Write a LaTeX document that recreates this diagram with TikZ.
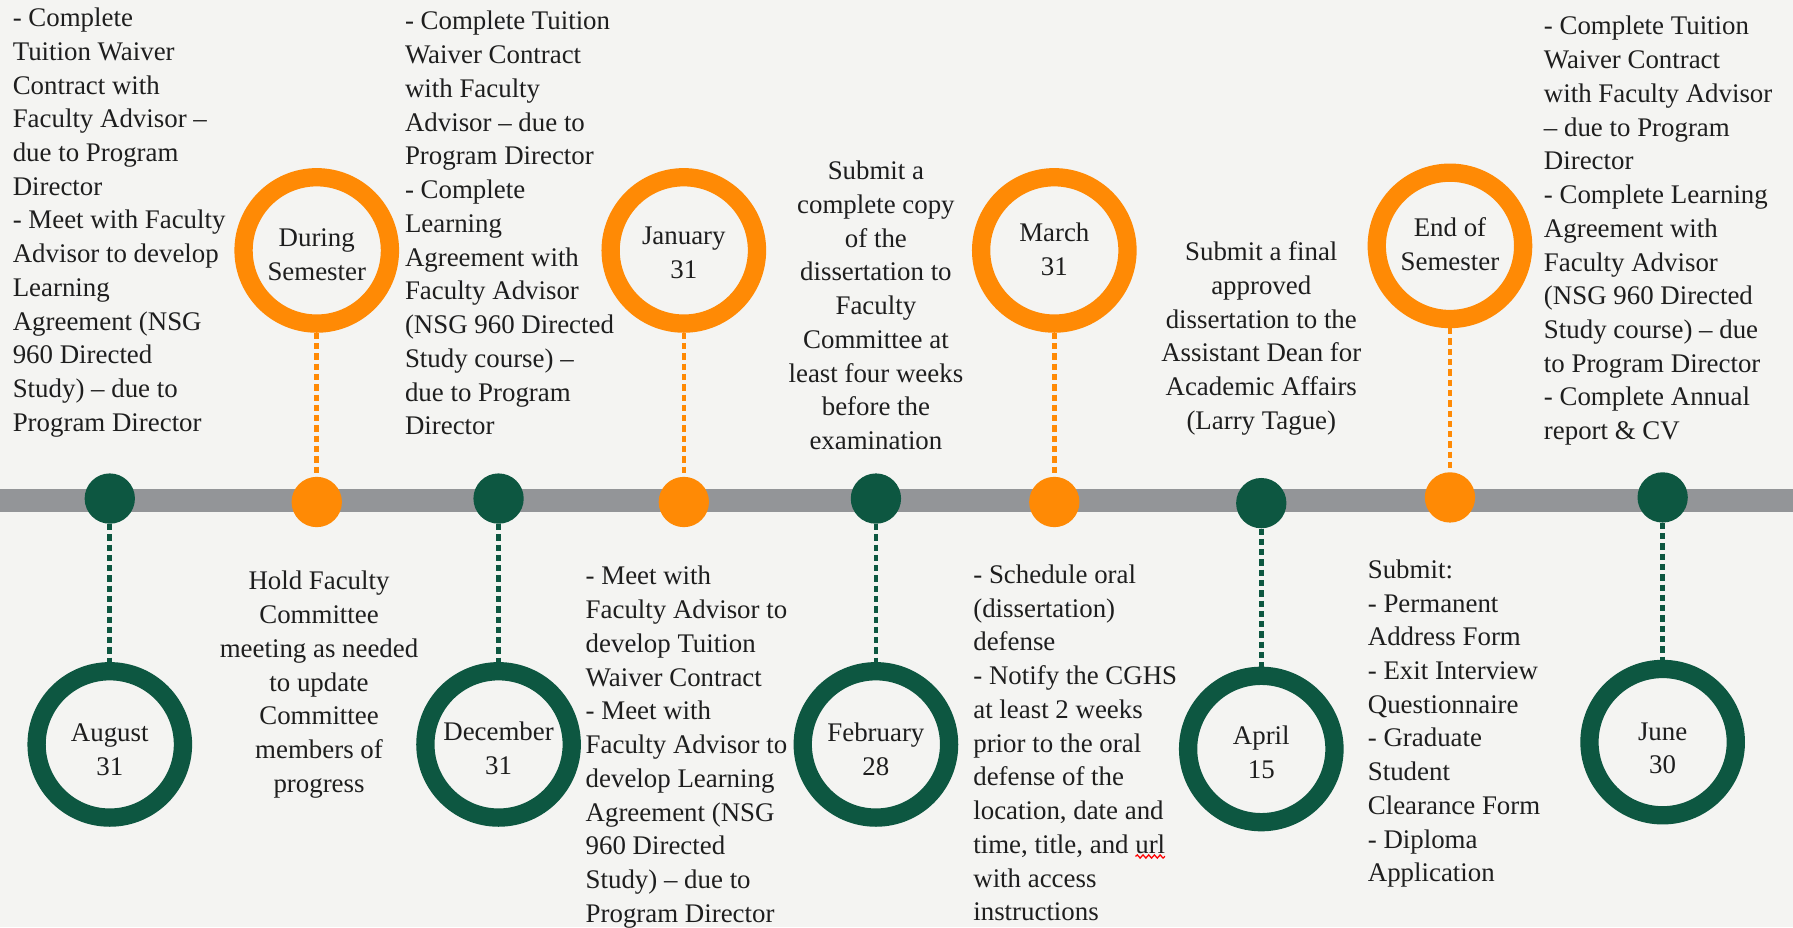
\documentclass[tikz,border=0pt]{standalone}
\usepackage{fontspec}
\setmainfont{Liberation Serif}
\usetikzlibrary{decorations.pathmorphing}
\definecolor{bgcol}{HTML}{F4F4F2}
\definecolor{tlgreen}{HTML}{0D5741}
\definecolor{tlorange}{HTML}{FF8A05}
\definecolor{tlgray}{HTML}{939598}
\definecolor{txtcol}{HTML}{1E1E1E}
\newcommand\fl{\rule{0pt}{20pt}}
\begin{document}
\begin{tikzpicture}[x=1pt,y=-1pt,
  tlring/.style={circle, draw=#1, line width=16pt, minimum size=128pt, inner sep=0pt},
  tldot/.style={circle, fill=#1, minimum size=44pt, inner sep=0pt},
  tllink/.style={draw=#1, line width=4pt, dash pattern=on 5.5pt off 3.5pt},
  tltext/.style={text=txtcol, font=\fontsize{23.5}{29.5}\selectfont, inner sep=0pt},
  lcol/.style={tltext, align=left, anchor=north west},
  ccol/.style={tltext, align=center, anchor=north},
]
\useasboundingbox (0,0) rectangle (1568,810.7);
\fill[bgcol] (0,0) rectangle (1568,810.7);
% timeline bar
\fill[tlgray] (0,428) rectangle (1568,448);
% dots on the bar
\node[tldot=tlgreen]  (d1) at (96,436) {};
\node[tldot=tlorange] (d2) at (277,439) {};
\node[tldot=tlgreen]  (d3) at (436,436) {};
\node[tldot=tlorange] (d4) at (598,439) {};
\node[tldot=tlgreen]  (d5) at (766,436) {};
\node[tldot=tlorange] (d6) at (922,439) {};
\node[tldot=tlgreen]  (d7) at (1103,440) {};
\node[tldot=tlorange] (d8) at (1268,435) {};
\node[tldot=tlgreen]  (d9) at (1454,435) {};
% rings above
\node[tlring=tlorange] (ds)  at (277,219) {};
\node[tlring=tlorange] (jan) at (598,219) {};
\node[tlring=tlorange] (mar) at (922,219) {};
\node[tlring=tlorange] (eos) at (1268,215) {};
% rings below
\node[tlring=tlgreen] (aug) at (96,651) {};
\node[tlring=tlgreen] (dec) at (436,651) {};
\node[tlring=tlgreen] (feb) at (766,651) {};
\node[tlring=tlgreen] (apr) at (1103,655) {};
\node[tlring=tlgreen] (jun) at (1454,649) {};
% connectors
\draw[tllink=tlorange] (ds) -- (d2);
\draw[tllink=tlorange] (jan) -- (d4);
\draw[tllink=tlorange] (mar) -- (d6);
\draw[tllink=tlorange] (eos) -- (d8);
\draw[tllink=tlgreen] (d1) -- (aug);
\draw[tllink=tlgreen] (d3) -- (dec);
\draw[tllink=tlgreen] (d5) -- (feb);
\draw[tllink=tlgreen] (d7) -- (apr);
\draw[tllink=tlgreen] (d9) -- (jun);
% ring labels
\node[ccol] (ds-l)  at (277,195.5) {\fl During\\Semester};
\node[ccol] (jan-l) at (598,194) {\fl January\\31};
\node[ccol] (mar-l) at (922,191) {\fl March\\31};
\node[ccol] (eos-l) at (1268,187) {\fl End of\\Semester};
\node[ccol] (aug-l) at (96,628.3) {\fl August\\31};
\node[ccol] (dec-l) at (436,627.7) {\fl December\\31};
\node[ccol] (feb-l) at (766,628.3) {\fl February\\28};
\node[ccol] (apr-l) at (1103,631.3) {\fl April\\15};
\node[ccol] (jun-l) at (1454,627) {\fl June\\30};
% texts above
\node[lcol] (t1) at (11,3) {\fl- Complete\\Tuition Waiver\\Contract with\\Faculty Advisor –\\due to Program\\Director\\- Meet with Faculty\\Advisor to develop\\Learning\\Agreement (NSG\\960 Directed\\Study) – due to\\Program Director};
\node[lcol] (t2) at (354,6) {\fl- Complete Tuition\\Waiver Contract\\with Faculty\\Advisor – due to\\Program Director\\- Complete\\Learning\\Agreement with\\Faculty Advisor\\(NSG 960 Directed\\Study course) –\\due to Program\\Director};
\node[ccol] (t3) at (766,137) {\fl Submit a\\complete copy\\of the\\dissertation to\\Faculty\\Committee at\\least four weeks\\before the\\examination};
\node[ccol] (t4) at (1103,207.7) {\fl Submit a final\\approved\\dissertation to the\\Assistant Dean for\\Academic Affairs\\(Larry Tague)};
\node[lcol] (t5) at (1350,10.3) {\fl- Complete Tuition\\Waiver Contract\\with Faculty Advisor\\– due to Program\\Director\\- Complete Learning\\Agreement with\\Faculty Advisor\\(NSG 960 Directed\\Study course) – due\\to Program Director\\- Complete Annual\\report \& CV};
% texts below
\node[ccol] (b1) at (279,495.7) {\fl Hold Faculty\\Committee\\meeting as needed\\to update\\Committee\\members of\\progress};
\node[lcol] (b2) at (512,491.3) {\fl- Meet with\\Faculty Advisor to\\develop Tuition\\Waiver Contract\\- Meet with\\Faculty Advisor to\\develop Learning\\Agreement (NSG\\960 Directed\\Study) – due to\\Program Director};
\node[lcol] (b3) at (851,490) {\fl- Schedule oral\\(dissertation)\\defense\\- Notify the CGHS\\at least 2 weeks\\prior to the oral\\defense of the\\location, date and\\time, title, and url\\with access\\instructions};
\node[lcol] (b4) at (1196,485.5) {\fl Submit:\\- Permanent\\Address Form\\- Exit Interview\\Questionnaire\\- Graduate\\Student\\Clearance Form\\- Diploma\\Application};
% spell-check squiggle under "url"
\draw[red, line width=1.1pt, decorate, decoration={snake, amplitude=1.4pt, segment length=5pt}] (993,749) -- (1019,749);
\end{tikzpicture}
\end{document}
